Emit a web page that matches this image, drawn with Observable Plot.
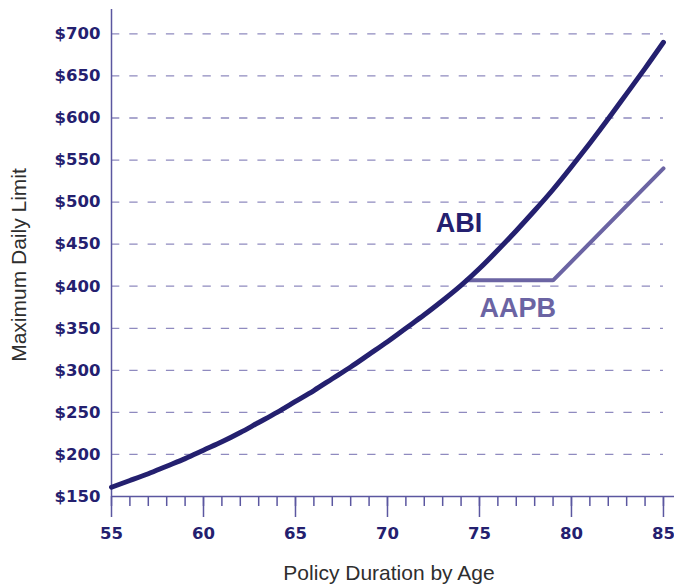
<!DOCTYPE html>
<html>
<head>
<meta charset="utf-8">
<script src="https://cdn.jsdelivr.net/npm/d3@7"></script>
<script src="https://cdn.jsdelivr.net/npm/@observablehq/plot@0.6"></script>
<style>
  html, body { margin: 0; padding: 0; background: #ffffff; }
  #chart svg { display: block; }
</style>
</head>
<body>
<div id="chart"></div>
<script>
// ---- Data ----
const ages = [55,56,57,58,59,60,61,62,63,64,65,66,67,68,69,70,71,72,73,74,75,76,77,78,79,80,81,82,83,84,85];
const abiValues = [161,169,177,186,195,205,215,226,238,250,263,276,290,304,319,334,350,366,383,401,421,443,466,490,515,542,570,599,629,659,690];
const aapbAges = [74.3, 79, 85];
const aapbValues = [407, 407, 540];
const yTicks = [150,200,250,300,350,400,450,500,550,600,650,700];
const gridValues = [200,250,300,350,400,450,500,550,600,650,700];
const xMajorTicks = [55,60,65,70,75,80,85];
const seriesNames = ["ABI", "AAPB"];
const labelAges = [72.62, 75.0];
const labelValues = [464, 363];
const xTitle = "Policy Duration by Age";
const yTitle = "Maximum Daily Limit";

// ---- Styles ----
const navy = "#24206f";
const purple = "#6b64a3";
const axisColor = "#5b57a0";
const gridColor = "#8f8abf";

const abiData = ages.map((a, i) => ({age: a, value: abiValues[i]}));
const aapbData = aapbAges.map((a, i) => ({age: a, value: aapbValues[i]}));

const chart = Plot.plot({
  width: 674,
  height: 585,
  marginLeft: 111,
  marginRight: 0,
  marginTop: 9,
  marginBottom: 89,
  style: {fontFamily: "DejaVu Sans", background: "#ffffff"},
  x: {domain: [55, 85.6], axis: null},
  y: {domain: [150, 729], axis: null},
  marks: [
    Plot.ruleY(gridValues, {x1: 55, x2: 85, stroke: gridColor, strokeWidth: 1.3, strokeDasharray: "8.3,10"}),
    Plot.ruleY([150], {stroke: axisColor, strokeWidth: 1.5}),
    Plot.ruleX([55], {stroke: axisColor, strokeWidth: 1.5}),
    Plot.axisX(ages, {tickSize: 10, tickFormat: () => "", stroke: axisColor, strokeWidth: 1.5, label: null}),
    Plot.axisX(xMajorTicks, {tickSize: 21, tickPadding: 10, stroke: axisColor, strokeWidth: 1.5, fill: navy,
      fontWeight: "bold", fontSize: 16.5, fontFamily: "DejaVu Sans", label: null}),
    Plot.axisY(yTicks, {tickSize: 0, tickPadding: 11, fill: navy, fontWeight: "bold", fontSize: 16.5,
      fontFamily: "DejaVu Sans", tickFormat: d => "$" + d, label: null}),
    Plot.line(aapbData, {x: "age", y: "value", stroke: purple, strokeWidth: 4, strokeLinecap: "round", strokeLinejoin: "miter"}),
    Plot.line(abiData, {x: "age", y: "value", curve: "natural", stroke: navy, strokeWidth: 5, strokeLinecap: "round"}),
    Plot.text([0], {x: () => labelAges[0], y: () => labelValues[0], text: () => seriesNames[0], fill: navy,
      textAnchor: "start", lineAnchor: "bottom", fontSize: 27, fontWeight: "bold", fontFamily: "Liberation Sans"}),
    Plot.text([1], {x: () => labelAges[1], y: () => labelValues[1], text: () => seriesNames[1], fill: purple,
      textAnchor: "start", lineAnchor: "bottom", fontSize: 27, fontWeight: "bold", fontFamily: "Liberation Sans"}),
    Plot.text([xTitle], {frameAnchor: "bottom", textAnchor: "middle", dy: 83, dx: -4, lineAnchor: "bottom", fontSize: 21,
      fontFamily: "Liberation Sans", fill: "#2e2e2e"}),
    Plot.text([yTitle], {frameAnchor: "left", textAnchor: "middle", rotate: -90, dx: -86, dy: 12, lineAnchor: "bottom", fontSize: 21,
      fontFamily: "Liberation Sans", fill: "#2e2e2e"})
  ]
});
document.getElementById("chart").appendChild(chart);
</script>
</body>
</html>
